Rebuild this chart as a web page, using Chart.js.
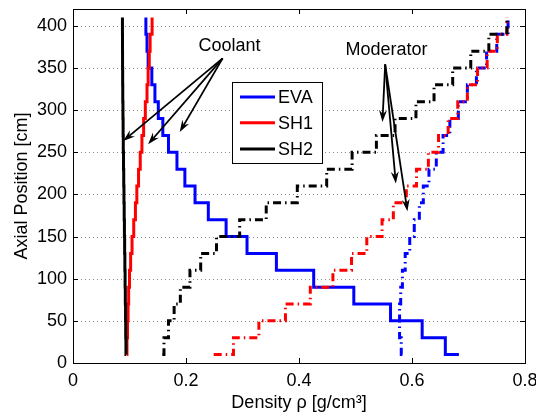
<!DOCTYPE html>
<html>
<head>
<meta charset="utf-8">
<script src="https://cdn.jsdelivr.net/npm/chart.js@4/dist/chart.umd.min.js"></script>
<style>
  html, body { margin: 0; padding: 0; background: #fff; }
  #wrap { width: 536px; height: 414px; }
</style>
</head>
<body>
<div id="wrap"><canvas id="densityChart" width="536" height="414"></canvas></div>
<script>
(function () {
    'use strict';

    // axial node heights [cm]
    const heights = [10, 30, 50, 70, 90, 110, 130, 150, 170, 190, 210,
                     230, 250, 270, 290, 310, 330, 350, 370, 390, 410];

    // coolant density [g/cm3]
    const coolEVA = [0.683, 0.659, 0.618, 0.562, 0.497, 0.426, 0.360, 0.308, 0.271, 0.2395, 0.216,
                     0.198, 0.184, 0.169, 0.159, 0.151, 0.145, 0.1395, 0.133, 0.131, 0.129];
    const coolSH1 = [0.095, 0.0955, 0.0965, 0.0975, 0.0985, 0.100, 0.102, 0.1045, 0.1075, 0.1105, 0.113,
                     0.116, 0.119, 0.122, 0.125, 0.128, 0.131, 0.133, 0.135, 0.1365, 0.140];
    const coolSH2 = [0.094, 0.0937, 0.0933, 0.093, 0.0926, 0.0922, 0.0918, 0.0914, 0.091, 0.0906, 0.0902,
                     0.0898, 0.0894, 0.089, 0.0887, 0.0884, 0.0881, 0.0879, 0.0877, 0.0876, 0.0875];

    // moderator density [g/cm3]
    const modEVA = [0.583, 0.581, 0.578, 0.578, 0.580, 0.583, 0.588, 0.596, 0.604, 0.613, 0.620,
                    0.630, 0.643, 0.655, 0.667, 0.682, 0.698, 0.714, 0.732, 0.750, 0.770];
    const modSH1 = [0.249, 0.284, 0.329, 0.376, 0.420, 0.460, 0.493, 0.520, 0.547, 0.567, 0.590,
                    0.608, 0.629, 0.647, 0.664, 0.681, 0.698, 0.716, 0.733, 0.751, 0.768];
    const modSH2 = [0.158, 0.161, 0.169, 0.179, 0.190, 0.207, 0.226, 0.254, 0.295, 0.342, 0.397,
                    0.449, 0.494, 0.537, 0.570, 0.607, 0.639, 0.672, 0.704, 0.736, 0.768];

    const xTicks = [0, 0.2, 0.4, 0.6, 0.8];
    const yTicks = [0, 50, 100, 150, 200, 250, 300, 350, 400];

    const legendNames = ['EVA', 'SH1', 'SH2'];
    const legendColors = ['#0000ff', '#ff0000', '#000000'];

    // annotation anchors in data units [density, height]
    const notes = [
        { text: 'Coolant', at: [0.277, 375.5], from: [0.2648, 361.4],
          to: [[0.0888, 263.4], [0.1329, 259.5], [0.1889, 274]] },
        { text: 'Moderator', at: [0.555, 371.4], from: [0.5525, 354.3],
          to: [[0.5477, 285.9], [0.5714, 212.9], [0.5919, 180]] }
    ];

    const FONT = '"Liberation Sans", Arial, Helvetica, sans-serif';
    const fontSpec = { family: FONT, size: 18 };

    function pts(xs) {
        return xs.map((v, i) => ({ x: v, y: heights[i] }));
    }

    function line(label, xs, color, dashed) {
        return {
            label: label,
            data: pts(xs),
            showLine: true,
            stepped: 'before',
            borderColor: color,
            backgroundColor: color,
            borderWidth: 3,
            borderDash: dashed ? [8, 4, 1.5, 4] : [],
            borderCapStyle: 'butt',
            borderJoinStyle: 'miter',
            pointRadius: 0,
            fill: false
        };
    }

    // frame, inside ticks and dotted grid (drawn under the lines)
    const framePlugin = {
        id: 'frame',
        beforeDatasetsDraw(chart) {
            const { ctx, chartArea: ca, scales } = chart;
            ctx.save();
            ctx.strokeStyle = '#8a8a8a';
            ctx.lineWidth = 1;
            ctx.setLineDash([1, 3]);
            yTicks.forEach(v => {
                if (v === 0) return;
                const y = Math.round(scales.y.getPixelForValue(v)) + 0.5;
                ctx.beginPath();
                ctx.moveTo(ca.left, y);
                ctx.lineTo(ca.right, y);
                ctx.stroke();
            });
            ctx.restore();
        },
        afterDatasetsDraw(chart) {
            const { ctx, chartArea: ca, scales } = chart;
            const tl = 5;
            ctx.save();
            ctx.strokeStyle = '#000';
            ctx.lineWidth = 1;
            ctx.beginPath();
            xTicks.forEach(v => {
                const x = Math.round(scales.x.getPixelForValue(v)) + 0.5;
                ctx.moveTo(x, ca.bottom); ctx.lineTo(x, ca.bottom - tl);
                ctx.moveTo(x, ca.top); ctx.lineTo(x, ca.top + tl);
            });
            yTicks.forEach(v => {
                const y = Math.round(scales.y.getPixelForValue(v)) + 0.5;
                ctx.moveTo(ca.left, y); ctx.lineTo(ca.left + tl, y);
                ctx.moveTo(ca.right, y); ctx.lineTo(ca.right - tl, y);
            });
            ctx.stroke();
            ctx.strokeRect(Math.round(ca.left) + 0.5, Math.round(ca.top) + 0.5,
                           Math.round(ca.right - ca.left), Math.round(ca.bottom - ca.top));
            ctx.restore();
        }
    };

    function arrow(ctx, x1, y1, x2, y2) {
        const a = Math.atan2(y2 - y1, x2 - x1);
        const len = 12, half = 4, notch = 8;
        const bx = x2 - len * Math.cos(a), by = y2 - len * Math.sin(a);
        const nx = x2 - notch * Math.cos(a), ny = y2 - notch * Math.sin(a);
        ctx.beginPath();
        ctx.moveTo(x1, y1);
        ctx.lineTo(nx, ny);
        ctx.stroke();
        ctx.beginPath();
        ctx.moveTo(x2, y2);
        ctx.lineTo(bx - half * Math.sin(a), by + half * Math.cos(a));
        ctx.lineTo(nx, ny);
        ctx.lineTo(bx + half * Math.sin(a), by - half * Math.cos(a));
        ctx.closePath();
        ctx.fill();
    }

    const notesPlugin = {
        id: 'notes',
        afterDatasetsDraw(chart) {
            const { ctx, chartArea: ca, scales } = chart;
            const px = p => [scales.x.getPixelForValue(p[0]), scales.y.getPixelForValue(p[1])];
            ctx.save();
            ctx.strokeStyle = '#000';
            ctx.fillStyle = '#000';
            ctx.lineWidth = 1.8;
            notes.forEach(n => {
                const f = px(n.from);
                n.to.forEach(t => {
                    const p = px(t);
                    arrow(ctx, f[0], f[1], p[0], p[1]);
                });
                const c = px(n.at);
                ctx.font = '18px ' + FONT;
                ctx.textAlign = 'center';
                ctx.textBaseline = 'middle';
                ctx.fillText(n.text, c[0], c[1]);
            });

            // legend box
            const bx = ca.left + 159, by = ca.top + 73, bw = 90, bh = 81;
            ctx.fillStyle = '#fff';
            ctx.fillRect(bx, by, bw, bh);
            ctx.lineWidth = 1;
            ctx.strokeStyle = '#000';
            ctx.strokeRect(Math.round(bx) + 0.5, Math.round(by) + 0.5, bw, bh);
            const rows = [15, 40.7, 67];
            legendNames.forEach((name, i) => {
                const y = by + rows[i];
                ctx.strokeStyle = legendColors[i];
                ctx.lineWidth = 3;
                ctx.beginPath();
                ctx.moveTo(bx + 8, y);
                ctx.lineTo(bx + 43, y);
                ctx.stroke();
                ctx.fillStyle = '#000';
                ctx.font = '18px ' + FONT;
                ctx.textAlign = 'left';
                ctx.textBaseline = 'middle';
                ctx.fillText(name, bx + 46, y + 1);
            });
            ctx.restore();
        }
    };

    const ctx = document.getElementById('densityChart');
    new Chart(ctx, {
        type: 'scatter',
        data: {
            datasets: [
                line('SH2 mod', modSH2, '#000000', true),
                line('SH1 mod', modSH1, '#ff0000', true),
                line('EVA mod', modEVA, '#0000ff', true),
                line('SH2', coolSH2, '#000000', false),
                line('SH1', coolSH1, '#ff0000', false),
                line('EVA', coolEVA, '#0000ff', false)
            ]
        },
        options: {
            responsive: false,
            animation: false,
            events: [],
            layout: { padding: { top: 9, right: 11, left: 0, bottom: 0 } },
            plugins: { legend: { display: false }, tooltip: { enabled: false } },
            scales: {
                x: {
                    type: 'linear',
                    min: 0,
                    max: 0.8,
                    afterBuildTicks: s => { s.ticks = xTicks.map(v => ({ value: v })); },
                    afterFit: s => { s.height = 51; s.paddingLeft = 0; s.paddingRight = 0; },
                    grid: { display: false, drawTicks: false },
                    border: { display: false },
                    ticks: { font: fontSpec, color: '#000', padding: 7, maxRotation: 0,
                             callback: v => String(v) },
                    title: { display: true, text: 'Density ρ [g/cm³]', font: fontSpec, color: '#000',
                             padding: { top: 0, bottom: 0 } }
                },
                y: {
                    type: 'linear',
                    min: 0,
                    max: 420,
                    afterBuildTicks: s => { s.ticks = yTicks.map(v => ({ value: v })); },
                    afterFit: s => { s.width = 73; s.paddingTop = 0; s.paddingBottom = 0; },
                    grid: { display: false, drawTicks: false },
                    border: { display: false },
                    ticks: { font: fontSpec, color: '#000', padding: 6,
                             callback: v => String(v) },
                    title: { display: true, text: 'Axial Position [cm]', font: fontSpec, color: '#000',
                             padding: { top: 11, bottom: 0 } }
                }
            }
        },
        plugins: [framePlugin, notesPlugin]
    });
})();
</script>
</body>
</html>
